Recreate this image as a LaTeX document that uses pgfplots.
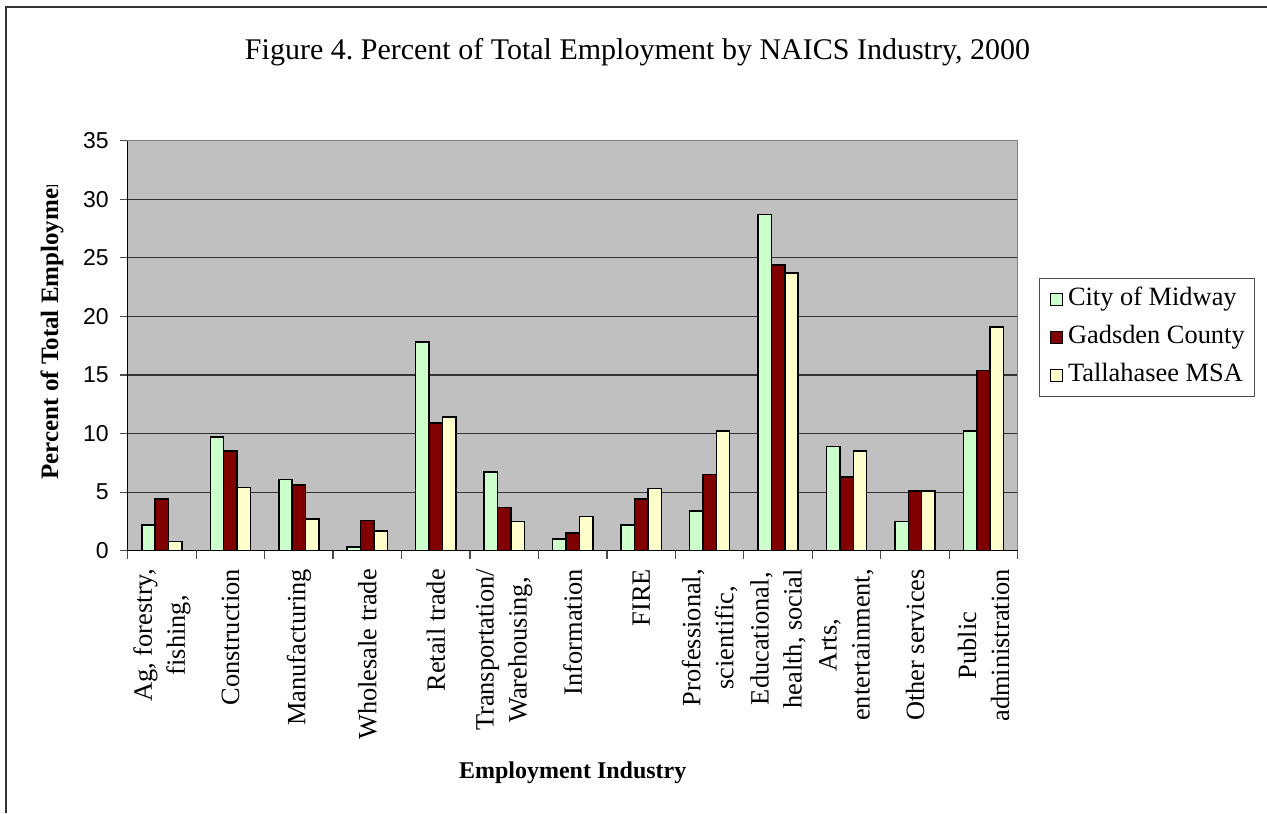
\documentclass[border=0pt]{standalone}
\usepackage{pgfplots}
\pgfplotsset{compat=1.18}
\usepackage{pgfplotstable}
\usepackage{fontspec}
\setmainfont{Liberation Serif}
\newfontfamily\arialfont{Liberation Sans}
\definecolor{cgreen}{HTML}{CCFFCC}
\definecolor{cred}{HTML}{800000}
\definecolor{cyellow}{HTML}{FFFFCC}
\definecolor{cbg}{HTML}{C0C0C0}

\pgfplotstableread{
x midway gadsden msa
0 2.2 4.4 0.8
1 9.7 8.5 5.4
2 6.1 5.6 2.7
3 0.3 2.6 1.7
4 17.8 10.9 11.4
5 6.7 3.7 2.5
6 1.0 1.5 2.9
7 2.2 4.4 5.3
8 3.4 6.5 10.2
9 28.7 24.4 23.7
10 8.9 6.3 8.5
11 2.5 5.1 5.1
12 10.2 15.4 19.1
}\datatable

\begin{document}
\frenchspacing
\begin{tikzpicture}
\useasboundingbox (0,0) rectangle (633.5pt,-406.5pt);
\draw[line width=0.75pt, black!80] (3pt,-406.5pt) -- (3pt,-3.5pt) -- (633.5pt,-3.5pt);
\node[font=\fontsize{15}{18}\selectfont] at (318.75pt,-26pt) {Figure 4. Percent of Total Employment by NAICS Industry, 2000};
\begin{axis}[
  at={(63.85pt,-275.35pt)}, anchor=south west,
  width=445pt, height=205pt, scale only axis,
  xmin=-0.5, xmax=12.5, ymin=0, ymax=35,
  ytick={0,5,...,35},
  axis background/.style={fill=cbg},
  axis line style={draw=gray, line width=0.6pt},
  ymajorgrids, grid style={black!80, line width=0.6pt},
  xtick={-0.5,0.5,...,12.5},
  x tick label as interval,
  xticklabels={{Ag, forestry,\\fishing,}, Construction, Manufacturing, Wholesale trade, Retail trade, {Transportation/\\Warehousing,}, Information, FIRE, {Professional,\\scientific,}, {Educational,\\health, social}, {Arts,\\entertainment,}, Other services, {Public\\administration}},
  xtick pos=bottom, ytick pos=left,
  tick align=outside,
  major tick length=4pt,
  tick style={black!70, line width=0.6pt},
  x tick label style={rotate=90, anchor=east, align=center, font=\fontsize{13.2}{16.5}\selectfont, inner sep=0pt},
  xticklabel shift=5pt,
  y tick label style={font=\arialfont\fontsize{11.5}{13}\selectfont, xshift=-2pt},
  /pgf/number format/assume math mode=true,
  xlabel={Employment Industry},
  every axis x label/.style={at={(rel axis cs:0.5,0)}, yshift=-111pt, anchor=center, font=\bfseries\fontsize{12}{14}\selectfont},
  ybar=0pt, bar width=6.7pt,
  legend style={at={(1.024,0.52)}, anchor=west, draw=black!70, line width=0.6pt, fill=white,
    font=\fontsize{13.2}{15}\selectfont, inner xsep=5pt, inner ysep=4.5pt, row sep=7pt,
    nodes={inner sep=0pt, text height=9pt, text depth=3pt}},
  legend cell align=left,
  legend image code/.code={\draw[#1, line width=0.6pt] (0pt,-3pt) rectangle (6pt,3pt); \path (8.5pt,0pt);},
  after end axis/.code={\draw[black, line width=0.6pt] (rel axis cs:0,0) -- (rel axis cs:1,0); \draw[black, line width=0.6pt] (rel axis cs:0,0) -- (rel axis cs:0,1);},
]
\addplot[fill=cgreen, draw=black, line width=0.75pt] table[x=x, y=midway] {\datatable};
\addplot[fill=cred, draw=black, line width=0.75pt] table[x=x, y=gadsden] {\datatable};
\addplot[fill=cyellow, draw=black, line width=0.75pt] table[x=x, y=msa] {\datatable};
\legend{City of Midway, Gadsden County, Tallahasee MSA}
\end{axis}
\begin{scope}
\clip (0pt,-92.5pt) rectangle (60pt,-260pt);
\node[rotate=90, anchor=west, font=\bfseries\fontsize{12.5}{15}\selectfont, inner sep=0pt] at (26pt,-240pt) {Percent of Total Employment};
\end{scope}
\end{tikzpicture}
\end{document}
